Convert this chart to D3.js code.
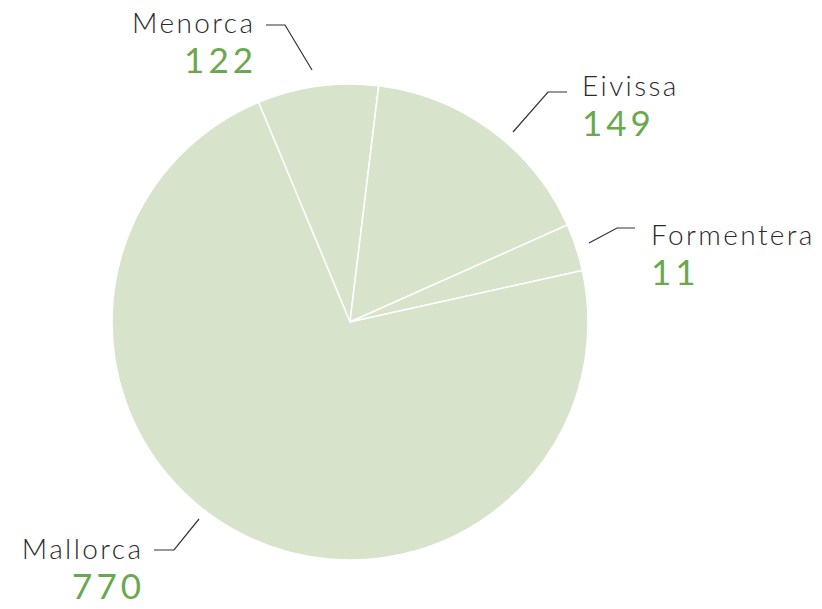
<!DOCTYPE html>
<html>
<head>
<meta charset="utf-8">
<script src="https://cdn.jsdelivr.net/npm/d3@7"></script>
<style>
  body { margin: 0; background: #fff; }
  svg { display: block; }
</style>
</head>
<body>
<svg width="822" height="609"></svg>
<script>
// islands, in drawing order (clockwise from the top)
const islands = ['Menorca', 'Eivissa', 'Formentera', 'Mallorca'];
// numbers shown in the labels
const counts = [122, 149, 11, 770];
// slice sizes (percent of the circle)
const shares = [8.2, 16.4, 3.2, 72.2];

// label layout: text anchor, text x/y, leader polyline
const labelLayout = [
  { anchor: 'end',   x: 253, y: 33,  leader: [[266, 25], [285, 25], [312, 70]] },
  { anchor: 'start', x: 582, y: 96,  leader: [[567, 92], [548, 92], [513, 132]] },
  { anchor: 'start', x: 651, y: 245, leader: [[635, 228], [617, 228], [589, 243]] },
  { anchor: 'end',   x: 141, y: 559, leader: [[154, 550], [174, 550], [199, 519]] }
];

const svg = d3.select('svg');
const cx = 350, cy = 322, radius = 238;
const startAngle = -22.6 * Math.PI / 180;

const pie = d3.pie()
  .sort(null)
  .value(d => d)
  .startAngle(startAngle)
  .endAngle(startAngle + 2 * Math.PI);

const arc = d3.arc()
  .innerRadius(0)
  .outerRadius(radius);

const g = svg.append('g')
  .attr('transform', `translate(${cx}, ${cy})`);

g.selectAll('path.slice')
  .data(pie(shares))
  .join('path')
  .attr('class', 'slice')
  .attr('d', arc)
  .attr('fill', '#d7e3cb')
  .attr('stroke', '#fff')
  .attr('stroke-width', 1.5)
  .attr('stroke-linejoin', 'round');

const labels = svg.append('g');
const nameSpacing = 2.4, numSpacing = 4;

islands.forEach((name, i) => {
  const l = labelLayout[i];
  const endShift = l.anchor === 'end';
  labels.append('polyline')
    .attr('points', l.leader.map(p => p.join(',')).join(' '))
    .attr('fill', 'none')
    .attr('stroke', '#333')
    .attr('stroke-width', 1.2);

  labels.append('text')
    .attr('x', l.x + (endShift ? nameSpacing : 0))
    .attr('y', l.y)
    .attr('text-anchor', l.anchor)
    .attr('font-family', 'Lato, sans-serif')
    .attr('font-weight', 300)
    .attr('font-size', 28)
    .attr('letter-spacing', nameSpacing)
    .attr('fill', '#2b2b2b')
    .text(name);

  labels.append('text')
    .attr('x', l.x + (endShift ? numSpacing : 0))
    .attr('y', l.y + 40)
    .attr('text-anchor', l.anchor)
    .attr('font-family', 'Lato, sans-serif')
    .attr('font-weight', 400)
    .attr('font-size', 35)
    .attr('letter-spacing', numSpacing)
    .attr('fill', '#6aa84f')
    .text(counts[i]);
});
</script>
</body>
</html>
